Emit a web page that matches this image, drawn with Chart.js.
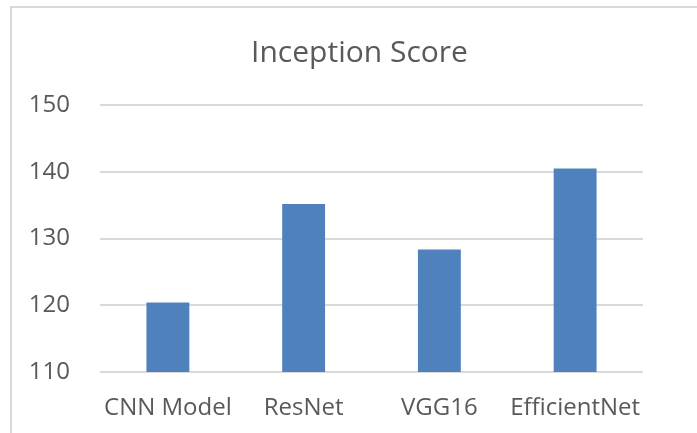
<!DOCTYPE html>
<html>
<head>
<meta charset="utf-8">
<script src="https://cdn.jsdelivr.net/npm/chart.js@4.4.0/dist/chart.umd.min.js"></script>
<style>
  html, body { margin: 0; padding: 0; background: #ffffff; }
  #wrap { position: relative; width: 697px; height: 433px; }
</style>
</head>
<body>
<div id="wrap"><canvas id="c" width="697" height="433"></canvas></div>
<script>
const chartTitle = "Inception Score";
const categories = ["CNN Model", "ResNet", "VGG16", "EfficientNet"];
const inceptionScores = [120.4, 135.15, 128.35, 140.5];
const yMin = 110, yMax = 150, yStep = 10;

const FONT = "'Open Sans', 'DejaVu Sans', sans-serif";
const TEXT = "#595959";

const framePlugin = {
  id: 'frameAndTitle',
  beforeDraw(chart) {
    const ctx = chart.ctx;
    ctx.save();
    ctx.fillStyle = '#ffffff';
    ctx.fillRect(0, 0, chart.width, chart.height);
    ctx.strokeStyle = '#d9d9d9';
    ctx.lineWidth = 2;
    ctx.beginPath();
    ctx.moveTo(11, chart.height + 5);
    ctx.lineTo(11, 7);
    ctx.lineTo(chart.width + 5, 7);
    ctx.stroke();
    ctx.restore();
  },
  afterDraw(chart) {
    const ctx = chart.ctx;
    ctx.save();
    ctx.fillStyle = TEXT;
    ctx.font = "30px " + FONT;
    ctx.textAlign = 'center';
    ctx.textBaseline = 'alphabetic';
    ctx.fillText(chartTitle, 359.5, 62);
    ctx.restore();
  }
};

new Chart(document.getElementById('c'), {
  type: 'bar',
  data: {
    labels: categories,
    datasets: [{
      label: chartTitle,
      data: inceptionScores,
      backgroundColor: '#4F81BD',
      borderColor: 'rgba(255,255,255,0.5)',
      borderWidth: 0,
      barPercentage: 0.316,
      categoryPercentage: 1.0
    }]
  },
  options: {
    responsive: false,
    animation: false,
    devicePixelRatio: 1,
    layout: { padding: { left: 0, right: 54, top: 105, bottom: 0 } },
    plugins: {
      legend: { display: false },
      title: { display: false },
      tooltip: { enabled: false }
    },
    scales: {
      x: {
        grid: { display: false, drawTicks: false },
        border: { display: false },
        ticks: { color: TEXT, font: { family: FONT, size: 24 }, padding: 22, maxRotation: 0, autoSkip: false },
        afterFit(scale) { scale.height = 61; }
      },
      y: {
        min: yMin, max: yMax,
        grid: { color: '#d9d9d9', lineWidth: 2, drawTicks: false },
        border: { display: false },
        ticks: { stepSize: yStep, color: TEXT, font: { family: FONT, size: 24 }, padding: 30 },
        afterFit(scale) { scale.width = 100; }
      }
    }
  },
  plugins: [framePlugin]
});
</script>
</body>
</html>
